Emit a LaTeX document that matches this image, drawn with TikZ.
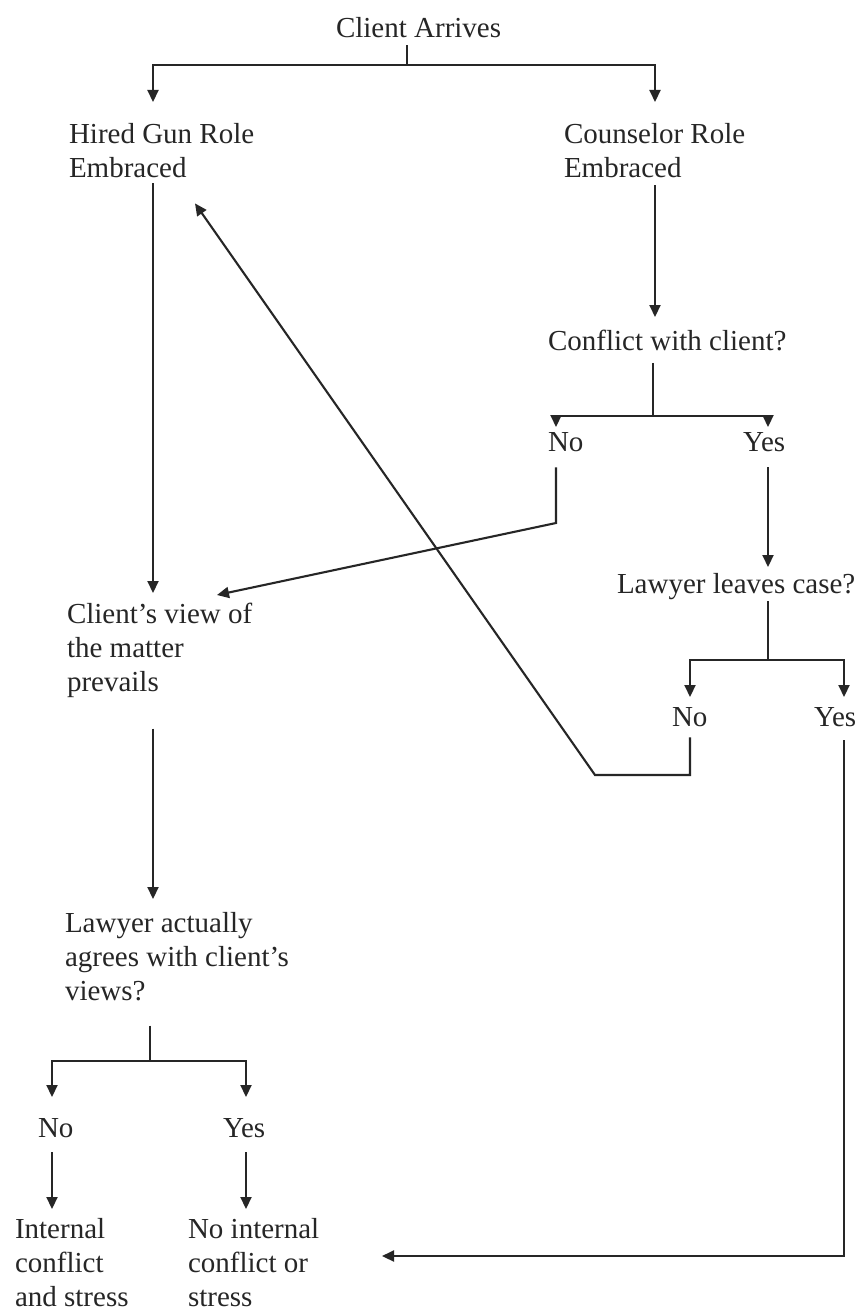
\documentclass[tikz,border=0pt]{standalone}
\usepackage{fontspec}
\setmainfont{Liberation Serif}
\usetikzlibrary{arrows.meta,calc}
\definecolor{ink}{HTML}{262626}
\begin{document}
\begin{tikzpicture}[x=1pt,y=-1pt,
  txt/.style={font=\fontsize{29}{34}\selectfont, inner sep=0pt, outer sep=0pt, anchor=north west, align=left, text=ink},
  line/.style={draw=ink, line width=2.1pt},
  arr/.style={line, -{Triangle[length=12pt,width=11pt]}}]
\fill[white] (0,0) rectangle (863,1311);
\useasboundingbox (0,0) rectangle (863,1311);
% text nodes
\node[txt] (ca) at (336,17) {Client Arrives};
\node[txt] (hg) at (69,123) {Hired Gun Role\\Embraced};
\node[txt] (cr) at (564,123) {Counselor Role\\Embraced};
\node[txt] (cc) at (548,330) {Conflict with client?};
\node[txt] (n1) at (548,433) {No};
\node[txt] (y1) at (743,433) {Yes};
\node[txt] (ll) at (617,573) {Lawyer leaves case?};
\node[txt] (n2) at (672,708) {No};
\node[txt] (y2) at (814,708) {Yes};
\node[txt] (cv) at (67,603) {Client’s view of\\the matter\\prevails};
\node[txt] (la) at (65,912) {Lawyer actually\\agrees with client’s\\views?};
\node[txt] (n3) at (38,1118) {No};
\node[txt] (y3) at (223,1118) {Yes};
\node[txt] (ic) at (15,1218) {Internal\\conflict\\and stress};
\node[txt] (ni) at (188,1218) {No internal\\conflict or\\stress};
% columns and bends
\coordinate (xL) at (153,0);
\coordinate (xR) at (655,0);
\coordinate (t0) at (407,65);
\coordinate (j2) at (653,416);
\coordinate (c1) at (556,0);
\coordinate (c2) at (768,0);
\coordinate (j3) at (768,660);
\coordinate (c3) at (690,0);
\coordinate (c4) at (844,0);
\coordinate (b1) at (556,523);
\coordinate (b2) at (690,775);
\coordinate (b3) at (595,775);
\coordinate (b4) at (844,1256);
\coordinate (j4) at (150,1061);
\coordinate (c6) at (52,0);
\coordinate (c7) at (246,0);
% connectors
\draw[line] ($(ca.south -| t0)+(0,8)$) -- (t0);
\draw[arr] (t0) -| ($(hg.north -| xL)+(0,-21)$);
\draw[arr] (t0) -| ($(cr.north -| xR)+(0,-21)$);
\draw[arr] ($(hg.south -| xL)+(0,6)$) -- ($(cv.north -| xL)+(0,-10)$);
\draw[arr] ($(cr.south -| xR)+(0,8)$) -- ($(cc.north -| xR)+(0,-13)$);
\draw[line] ($(cc.south -| j2)+(0,12)$) -- (j2);
\draw[arr] (j2) -| ($(n1.north -| c1)+(0,-6)$);
\draw[arr] (j2) -| ($(y1.north -| c2)+(0,-6)$);
\draw[arr] ($(n1.south -| c1)+(0,15)$) -- (b1) -- ($(cv.north west)+(150,-8)$);
\draw[arr] ($(y1.south -| c2)+(0,15)$) -- ($(ll.north -| c2)+(0,-6)$);
\draw[line] ($(ll.south -| j3)+(0,2)$) -- (j3);
\draw[arr] (j3) -| ($(n2.north -| c3)+(0,-11)$);
\draw[arr] (j3) -| ($(y2.north -| c4)+(0,-11)$);
\draw[arr] ($(n2.south -| c3)+(0,10)$) -- (b2) -- (b3) -- ($(hg.south west)+(126,26)$);
\draw[arr] ($(y2.south -| c4)+(0,13)$) -- (b4) -- ($(ni.north west)+(194,38)$);
\draw[arr] ($(cv.south -| xL)+(0,31)$) -- ($(la.north -| xL)+(0,-13)$);
\draw[line] ($(la.south -| j4)+(0,25)$) -- (j4);
\draw[arr] (j4) -| ($(n3.north -| c6)+(0,-21)$);
\draw[arr] (j4) -| ($(y3.north -| c7)+(0,-21)$);
\draw[arr] ($(n3.south -| c6)+(0,15)$) -- ($(ic.north -| c6)+(0,-9)$);
\draw[arr] ($(y3.south -| c7)+(0,15)$) -- ($(ni.north -| c7)+(0,-9)$);
\end{tikzpicture}
\end{document}
